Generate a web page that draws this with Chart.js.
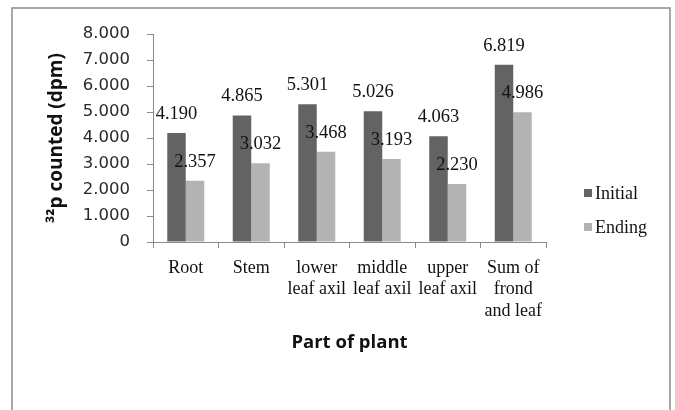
<!DOCTYPE html>
<html>
<head>
<meta charset="utf-8">
<script src="https://cdn.jsdelivr.net/npm/chart.js@4.4.1/dist/chart.umd.min.js"></script>
<style>
  html, body { margin: 0; padding: 0; background: #ffffff; }
  #wrap { width: 675px; height: 410px; }
</style>
</head>
<body>
<div id="wrap"><canvas id="chart" width="675" height="410"></canvas></div>
<script>
// Plant parts along the x axis (multi-line labels)
const categories = [
  ['Root'],
  ['Stem'],
  ['lower', 'leaf axil'],
  ['middle', 'leaf axil'],
  ['upper', 'leaf axil'],
  ['Sum of', 'frond', 'and leaf']
];
const seriesNames = ['Initial', 'Ending'];
// 32P activity counted, dpm
const initialValues = [4190, 4865, 5301, 5026, 4063, 6819];
const endingValues  = [2357, 3032, 3468, 3193, 2230, 4986];
const seriesColors = ['#636363', '#b3b3b3'];
const yTicks = [0, 1000, 2000, 3000, 4000, 5000, 6000, 7000, 8000];

// 4190 -> "4.190"
function fmt(v) {
  if (v === 0) return '0';
  const s = String(Math.round(v));
  return s.replace(/\B(?=(\d{3})+(?!\d))/g, '.');
}

const serif = '"Liberation Serif", "Times New Roman", serif';
const boldSans = '"Open Sans", "Noto Sans", sans-serif';

// Outer frame around the figure
const framePlugin = {
  id: 'frame',
  beforeDraw(chart) {
    const ctx = chart.ctx;
    ctx.save();
    ctx.fillStyle = '#ffffff';
    ctx.fillRect(0, 0, chart.width, chart.height);
    ctx.strokeStyle = '#8c8c8c';
    ctx.lineWidth = 1.5;
    ctx.strokeRect(12, 8, 658, 430);
    ctx.restore();
  }
};

// Value labels above each bar
const valueLabels = {
  id: 'valueLabels',
  afterDatasetsDraw(chart) {
    const ctx = chart.ctx;
    ctx.save();
    ctx.font = '18.5px ' + serif;
    ctx.fillStyle = '#111111';
    ctx.textAlign = 'center';
    ctx.textBaseline = 'middle';
    chart.data.datasets.forEach((ds, di) => {
      const meta = chart.getDatasetMeta(di);
      meta.data.forEach((bar, i) => {
        ctx.fillText(fmt(ds.data[i]), bar.x, bar.y - 19);
      });
    });
    ctx.restore();
  }
};

// Legend on the right, stacked vertically
const sideLegend = {
  id: 'sideLegend',
  afterDraw(chart) {
    const ctx = chart.ctx;
    const x = 584, y0 = 193, gap = 34, box = 8;
    ctx.save();
    ctx.font = '18px ' + serif;
    ctx.textAlign = 'left';
    ctx.textBaseline = 'middle';
    chart.data.datasets.forEach((ds, i) => {
      const y = y0 + i * gap;
      ctx.fillStyle = ds.backgroundColor;
      ctx.fillRect(x, y - box / 2, box, box);
      ctx.fillStyle = '#111111';
      ctx.fillText(ds.label, x + box + 3, y + 1);
    });
    ctx.restore();
  }
};

new Chart(document.getElementById('chart'), {
  type: 'bar',
  data: {
    labels: categories,
    datasets: [
      { label: seriesNames[0], data: initialValues, backgroundColor: seriesColors[0] },
      { label: seriesNames[1], data: endingValues, backgroundColor: seriesColors[1] }
    ]
  },
  options: {
    responsive: false,
    animation: false,
    layout: { padding: { left: 0, top: 34, right: 129, bottom: 0 } },
    plugins: {
      legend: { display: false },
      tooltip: { enabled: false }
    },
    datasets: {
      bar: { categoryPercentage: 0.565, barPercentage: 1.0, borderWidth: 0 }
    },
    scales: {
      x: {
        offset: true,
        afterFit(scale) { scale.height = 168; },
        grid: {
          offset: true,
          drawOnChartArea: false,
          drawTicks: true,
          tickLength: 6,
          color: '#8a8a8a'
        },
        border: { display: true, color: '#8a8a8a', width: 1 },
        ticks: {
          padding: 9,
          maxRotation: 0,
          autoSkip: false,
          color: '#111111',
          font: { family: serif, size: 18, lineHeight: 1.2 }
        },
        title: {
          display: true,
          text: 'Part of plant',
          color: '#111111',
          font: { family: boldSans, size: 18.5, weight: 'bold', lineHeight: 1.2 },
          padding: { top: 0, bottom: 56 }
        }
      },
      y: {
        min: 0,
        max: 8000,
        afterFit(scale) { scale.width = 153; },
        afterBuildTicks(scale) { scale.ticks = yTicks.map(v => ({ value: v })); },
        grid: {
          drawOnChartArea: false,
          drawTicks: true,
          tickLength: 6,
          color: '#8a8a8a'
        },
        border: { display: true, color: '#8a8a8a', width: 1 },
        ticks: {
          padding: 17,
          color: '#2a2a2a',
          font: { family: '"DejaVu Sans", sans-serif', size: 16.5 },
          callback: (v) => fmt(v)
        },
        title: {
          display: true,
          text: '³²p counted (dpm)',
          color: '#111111',
          font: { family: boldSans, size: 19, weight: 'bold', lineHeight: 1.2 },
          padding: { top: 45, bottom: 0 }
        }
      }
    }
  },
  plugins: [framePlugin, valueLabels, sideLegend]
});
</script>
</body>
</html>
